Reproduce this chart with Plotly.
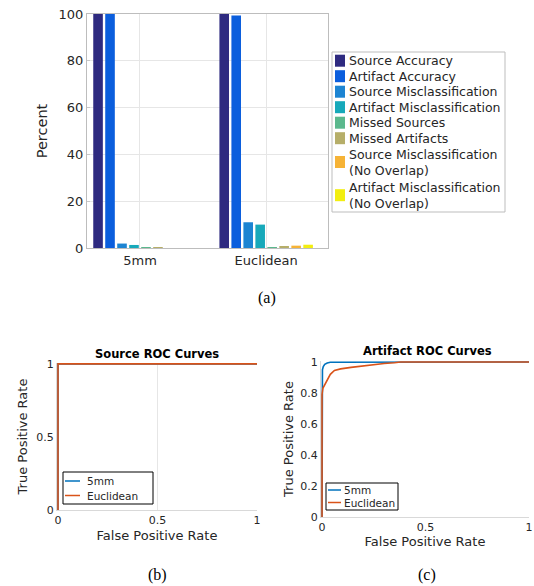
import plotly.graph_objects as go

W, H = 534, 586

# ---- data ----
categories = ["5mm", "Euclidean"]
series_names = [
    "Source Accuracy", "Artifact Accuracy", "Source Misclassification",
    "Artifact Misclassification", "Missed Sources", "Missed Artifacts",
    "Source Misclassification<br>(No Overlap)", "Artifact Misclassification<br>(No Overlap)",
]
series_values = [
    [100.0, 100.0],
    [100.0, 99.4],
    [1.9, 11.0],
    [1.3, 10.0],
    [0.25, 0.3],
    [0.2, 0.7],
    [0.0, 1.0],
    [0.0, 1.4],
]
series_colors = ["#2E2A80", "#0B5EDD", "#1C84D2", "#17A9BA", "#5BB88D", "#B6AE69", "#F6B336", "#F2EE10"]

roc_names = ["5mm", "Euclidean"]
roc_colors = ["#0072BD", "#D95319"]

src_fpr_5mm = [0, 0, 1]
src_tpr_5mm = [0, 1, 1]
src_fpr_euc = [0, 0, 1]
src_tpr_euc = [0, 1, 1]

art_fpr_5mm = [0, 0, 0.002, 0.006, 0.013, 0.025, 0.04, 1]
art_tpr_5mm = [0, 0.80, 0.95, 0.97, 0.985, 0.993, 0.998, 1]
art_fpr_euc = [0, 0, 0.004, 0.01, 0.02, 0.03, 0.04, 0.06, 0.09, 0.14, 0.2, 0.25, 0.3, 0.35, 0.38, 1]
art_tpr_euc = [0, 0.79, 0.83, 0.845, 0.86, 0.89, 0.92, 0.945, 0.955, 0.965, 0.975, 0.983, 0.99, 0.995, 1.0, 1.0]

TXT = "#262626"
GRID = "#E6E6E6"
FONT = "DejaVu Sans"


def px(x):
    return x / W


def py(y):
    return 1 - y / H


def xd(a, b):
    return [px(a), px(b)]


def yd(top, bottom):
    return [py(bottom), py(top)]


fig = go.Figure()

for name, vals, col in zip(series_names, series_values, series_colors):
    fig.add_trace(go.Bar(x=categories, y=vals, name=name, marker_color=col,
                         marker_line_width=0, xaxis="x", yaxis="y", showlegend=False))

fig.add_trace(go.Scatter(x=src_fpr_5mm, y=src_tpr_5mm, mode="lines", name=roc_names[0],
                         line=dict(color=roc_colors[0], width=1.6), xaxis="x2", yaxis="y2", showlegend=False))
fig.add_trace(go.Scatter(x=src_fpr_euc, y=src_tpr_euc, mode="lines", name=roc_names[1],
                         line=dict(color=roc_colors[1], width=1.6), xaxis="x2", yaxis="y2", showlegend=False))
fig.add_trace(go.Scatter(x=art_fpr_5mm, y=art_tpr_5mm, mode="lines", name=roc_names[0],
                         line=dict(color=roc_colors[0], width=1.6), xaxis="x3", yaxis="y3", showlegend=False))
fig.add_trace(go.Scatter(x=art_fpr_euc, y=art_tpr_euc, mode="lines", name=roc_names[1],
                         line=dict(color=roc_colors[1], width=1.6), xaxis="x3", yaxis="y3", showlegend=False))

axis_bar = dict(ticks="inside", ticklen=3, tickcolor="#C8C8C8", zeroline=False, linecolor="#BDBDBD",
                linewidth=1, showline=True, automargin=False, layer="below traces")
axis_roc = dict(ticks="", zeroline=False, linecolor="#D9D9D9", linewidth=1, showline=True,
                automargin=False, layer="below traces")
tf11 = dict(family=FONT, size=11, color=TXT)
tf13 = dict(family=FONT, size=13, color=TXT)
tf15 = dict(family=FONT, size=14.5, color=TXT)

fig.update_layout(
    width=W, height=H,
    margin=dict(l=0, r=0, t=0, b=0),
    paper_bgcolor="white", plot_bgcolor="white",
    barmode="group", bargap=0.24, bargroupgap=0.2,
    font=dict(family=FONT, color=TXT),
    showlegend=False,
    xaxis=dict(domain=xd(87, 328), anchor="y", type="category", range=[-0.42, 1.49],
               showgrid=True, gridcolor=GRID, mirror=True, tickfont=tf13,
               **{**axis_bar, "ticks": ""}),
    yaxis=dict(domain=yd(14, 248), anchor="x", range=[0, 100], dtick=20,
               showgrid=True, gridcolor=GRID, mirror=True, tickfont=tf13,
               title=dict(text="Percent", font=tf15, standoff=7), **axis_bar),
    xaxis2=dict(domain=xd(57, 257), anchor="y2", range=[-0.005, 1], tickvals=[0, 0.5, 1],
                ticktext=["0", "0.5", "1"], showgrid=True, gridcolor=GRID, tickfont=tf11,
                title=dict(text="False Positive Rate", font=tf13, standoff=4), **axis_roc),
    yaxis2=dict(domain=yd(363, 510), anchor="x2", range=[0, 1.006], tickvals=[0, 0.5, 1],
                ticktext=["0", "0.5", "1"], showgrid=False, tickfont=tf11,
                title=dict(text="True Positive Rate", font=tf13, standoff=5), **axis_roc),
    xaxis3=dict(domain=xd(321, 529), anchor="y3", range=[-0.005, 1], tickvals=[0, 0.5, 1],
                ticktext=["0", "0.5", "1"], showgrid=False, tickfont=tf11,
                title=dict(text="False Positive Rate", font=tf13, standoff=3), **axis_roc),
    yaxis3=dict(domain=yd(361, 517), anchor="x3", range=[0, 1.006], dtick=0.2,
                showgrid=False, tickfont=tf11,
                title=dict(text="True Positive Rate", font=tf13, standoff=3), **axis_roc),
)

shapes = []
annotations = []

# ---- legend for bar chart ----
shapes.append(dict(type="rect", xref="paper", yref="paper", x0=px(332), x1=px(505), y0=py(212), y1=py(52),
                   line=dict(color="#BDBDBD", width=1), fillcolor="white", layer="above"))
row_y = 60.7
for name, col in zip(series_names, series_colors):
    nlines = name.count("<br>") + 1
    step = 15.5 if nlines == 1 else 16.6
    cy = row_y + (nlines - 1) * step / 2
    shapes.append(dict(type="rect", xref="paper", yref="paper", x0=px(335), x1=px(345),
                       y0=py(cy + 6), y1=py(cy - 6), line=dict(width=0), fillcolor=col, layer="above"))
    annotations.append(dict(text=name, x=px(346.5), y=py(cy), xref="paper", yref="paper", showarrow=False,
                            xanchor="left", yanchor="middle", align="left",
                            font=dict(family=FONT, size=12.5, color=TXT)))
    row_y += nlines * step


# ---- legends for ROC plots ----
def roc_legend(box, sw_x, ys, tx, fsize):
    shapes.append(dict(type="rect", xref="paper", yref="paper", x0=px(box[0]), x1=px(box[1]),
                       y0=py(box[3]), y1=py(box[2]), line=dict(color="black", width=1),
                       fillcolor="white", layer="above"))
    for name, col, yy in zip(roc_names, roc_colors, ys):
        shapes.append(dict(type="line", xref="paper", yref="paper", x0=px(sw_x[0]), x1=px(sw_x[1]),
                           y0=py(yy), y1=py(yy), line=dict(color=col, width=1.5), layer="above"))
        annotations.append(dict(text=name, x=px(tx), y=py(yy), xref="paper", yref="paper", showarrow=False,
                                xanchor="left", yanchor="middle",
                                font=dict(family=FONT, size=fsize, color=TXT)))


roc_legend((63, 153, 472, 504), (65, 80), (481, 495.5), 85, 10.5)
roc_legend((326, 398, 483, 510), (328, 341), (490, 502.5), 341.5, 10.5)

# ---- titles and captions ----
for text, x, y, size, fam, col in [
    ("<b>Source ROC Curves</b>", 157, 354, 11.5, FONT, "black"),
    ("<b>Artifact ROC Curves</b>", 427, 351, 11.5, FONT, "black"),
    ("(a)", 267, 298, 16, "Liberation Serif", "black"),
    ("(b)", 157, 575, 16, "Liberation Serif", "black"),
    ("(c)", 427, 575, 16, "Liberation Serif", "black"),
]:
    annotations.append(dict(text=text, x=px(x), y=py(y), xref="paper", yref="paper", showarrow=False,
                            xanchor="center", yanchor="middle", font=dict(family=fam, size=size, color=col)))

fig.update_layout(shapes=shapes, annotations=annotations)

fig.write_html("out.html", config={"displayModeBar": False},
               post_script="document.body.style.margin='0px';document.body.style.overflow='hidden';")
